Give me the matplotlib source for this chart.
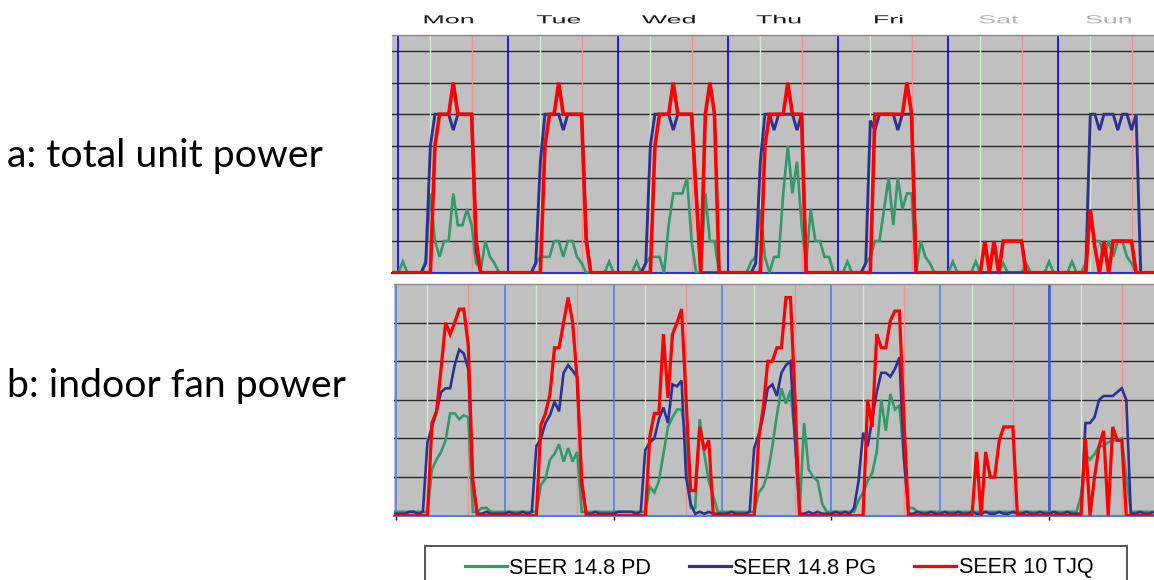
import numpy as np
import matplotlib
matplotlib.use("Agg")
import matplotlib.pyplot as plt
from matplotlib.patheffects import AbstractPathEffect
from matplotlib.transforms import Affine2D
from matplotlib.patches import Rectangle
from matplotlib.lines import Line2D

# ---------------- data ----------------
days = ["Mon", "Tue", "Wed", "Thu", "Fri", "Sat", "Sun"]
series_labels = ["SEER 14.8 PD", "SEER 14.8 PG", "SEER 10 TJQ"]
panel_labels = ["a: total unit power", "b: indoor fan power"]

hours = np.arange(-2, 168)   # hourly samples, 2 h of the previous Sunday first

# panel a : total unit power (grid units)
a_pd = ([0, 0] +
        [0, .35, 0, 0, 0, 0, .4, 2.5, 1.0, .5, 1.0, 1.0, 2.5, 1.5, 1.5, 2.0, 1.5, .3, .1, 1.0, .5, .3, 0, 0] +
        [0, 0, 0, 0, 0, 0, .3, .5, .5, .5, 1.0, 1.0, .5, 1.0, 1.0, .5, .3, 0, 0, 0, 0, 0, .35, 0] +
        [0, 0, 0, 0, .35, 0, .3, .5, .5, .5, 0, 1.5, 2.5, 2.5, 2.5, 3.0, 1.0, 0, 0, 2.5, 1.0, 1.0, 0, 0] +
        [0, 0, 0, 0, 0, .35, .5, 2.0, .5, 0, .5, .5, 2.5, 4.0, 2.5, 3.5, 1.5, .3, 2.0, 1.0, 1.0, .5, .5, 0] +
        [0, 0, .35, 0, 0, 0, .3, .5, 1.0, 1.0, 2.0, 3.0, 1.5, 3.0, 2.0, 2.5, 2.5, 0, 1.0, .5, .3, 0, 0, 0] +
        [0, .35, 0, 0, 0, 0, .35, 0, 0, 0, 0, 0, .3, 0, 0, 0, 0, .3, 0, 0, 0, 0, .35, 0] +
        [0, 0, 0, .35, 0, 0, .3, 2.0, 1.0, 1.0, .5, 1.0, .5, 1.0, 1.0, .5, .3, 0, 0, 0, 0, 0, 0, 0])
a_pg = ([0, 0] +
        [0, 0, 0, 0, 0, 0, .3, 4.0, 5, 5, 5, 5, 4.5, 5, 5, 5, 5, .7, 0, 0, 0, 0, 0, 0] +
        [0, 0, 0, 0, 0, 0, .3, 3.5, 5, 5, 5, 5, 4.5, 5, 5, 5, 5, 1.2, 0, 0, 0, 0, 0, 0] +
        [0, 0, 0, 0, 0, 0, .3, 4.0, 5, 5, 5, 5, 4.5, 5, 5, 5, 5, 2.5, 0, 0, 0, 0, 0, 0] +
        [0, 0, 0, 0, 0, 0, .3, 3.5, 5, 5, 4.5, 5, 5, 5, 5, 4.5, 5, 0, 0, 0, 0, 0, 0, 0] +
        [0, 0, 0, 0, 0, 0, .3, 4.8, 4.5, 5, 5, 5, 5, 4.5, 5, 5, 5, 0, 0, 0, 0, 0, 0, 0] +
        [0, 0, 0, 0, 0, 0, 0, 0, 0, 0, 0, 0, 0, 0, 0, 0, 0, 0, 0, 0, 0, 0, 0, 0] +
        [0, 0, 0, 0, 0, 0, 0, 5, 5, 4.5, 5, 5, 5, 4.5, 5, 5, 4.5, 5, 0, 0, 0, 0, 0, 0])
a_tjq = ([0, 0] +
         [0, 0, 0, 0, 0, 0, 0, 0, 4, 5, 5, 5, 6, 5, 5, 5, 5, 1.0, 0, 0, 0, 0, 0, 0] +
         [0, 0, 0, 0, 0, 0, 0, 0, 4, 5, 5, 6, 5, 5, 5, 5, 5, 1.0, 0, 0, 0, 0, 0, 0] +
         [0, 0, 0, 0, 0, 0, 0, 0, 4, 5, 5, 5, 6, 5, 5, 5, 5, 2.5, 0, 5, 6, 5, 0, 0] +
         [0, 0, 0, 0, 0, 0, 0, 0, 4, 5, 5, 5, 5, 6, 5, 5, 5, 0, 0, 0, 0, 0, 0, 0] +
         [0, 0, 0, 0, 0, 0, 0, 0, 5, 5, 5, 5, 5, 5, 5, 6, 5, 0, 0, 0, 0, 0, 0, 0] +
         [0, 0, 0, 0, 0, 0, 0, 0, 1, 0, 1, 0, 1, 1, 1, 1, 1, 0, 0, 0, 0, 0, 0, 0] +
         [0, 0, 0, 0, 0, 0, 0, 2, .8, 0, 1, 0, 1, 1, 1, 1, 1, 0, 0, 0, 0, 0, 0, 0])

# panel b : indoor fan power (grid units)
b_pd = ([.1, .1] +
        [.1, .1, .1, .1, .1, .1, .1, .1, 1.2, 1.45, 1.65, 1.95, 2.65, 2.65, 2.5, 2.6, 2.55, .1, .1, .2, .2, .1, .1, .1] +
        [.1, .1, .1, .1, .1, .1, .1, .1, .8, .95, 1.45, 1.6, 1.85, 1.4, 1.75, 1.4, 1.65, .1, .1, .1, .1, .1, .1, .1] +
        [.1, .1, .1, .1, .1, .1, .1, .1, .75, .6, .9, 1.6, 2.3, 2.55, 2.75, 2.75, 2.0, .2, .2, 2.5, 1.6, .9, .5, .1] +
        [.1, .1, .1, .1, .1, .1, .1, .1, .6, .75, 1.1, 1.8, 2.6, 3.3, 2.9, 3.25, 2.0, .1, 2.4, 1.2, 1.0, .9, .3, .1] +
        [.1, .1, .1, .1, .1, .1, .4, .6, .9, 1.1, 1.65, 3.0, 2.2, 3.15, 2.75, 2.85, 1.5, .2, .2, .1, .1, .1, .1, .1] +
        [.1, .1, .1, .1, .1, .1, .1, .1, .1, .1, .1, .1, .1, .1, .1, .1, .1, .1, .1, .1, .1, .1, .1, .1] +
        [.1, .1, .1, .1, .1, .1, .1, .5, 1.6, 1.45, 1.6, 1.8, 1.8, 1.9, 1.95, 1.95, 2.0, 1.0, .1, .1, .1, .1, .1, .1])
b_pg = ([.05, .05] +
        [.05, .05, .05, .1, .1, .05, .1, 1.9, 2.3, 2.7, 3.2, 3.3, 3.3, 3.9, 4.3, 4.2, 3.8, .9, .05, .05, .1, .05, .05, .05] +
        [.05, .1, .05, .05, .1, .05, .1, 1.8, 2.0, 2.4, 2.6, 2.95, 2.7, 3.7, 3.9, 3.75, 3.6, .8, .05, .05, .1, .05, .05, .05] +
        [.05, .1, .1, .1, .1, .05, .1, 1.7, 1.9, 2.0, 2.5, 2.8, 2.4, 3.4, 3.35, 3.5, 1.0, .3, .05, .1, .05, .1, .05, .05] +
        [.05, .05, .1, .05, .05, .05, .1, 1.75, 2.1, 2.6, 3.3, 3.4, 3.1, 3.7, 3.9, 4.0, 2.0, .05, .05, .1, .05, .1, .05, .05] +
        [.05, .1, .05, .1, .05, .2, .9, 2.15, 1.8, 2.5, 3.2, 3.7, 3.7, 3.6, 3.8, 4.1, 1.5, .05, .05, .1, .05, .05, .1, .05] +
        [.05, .1, .05, .05, .1, .05, .05, .1, .05, .05, .1, .05, .05, .1, .05, .05, .1, .05, .05, .1, .05, .05, .1, .05] +
        [.05, .1, .05, .05, .1, .05, .05, .05, 2.4, 2.4, 2.55, 3.0, 3.1, 3.1, 3.1, 3.2, 3.3, 3.0, .05, .05, .1, .05, .05, .1])
b_tjq = ([0, 0] +
         [0, 0, 0, 0, 0, 0, 0, 0, 2.4, 2.7, 3.8, 5.0, 4.7, 5.0, 5.35, 5.35, 4.4, .9, 0, 0, 0, 0, 0, 0] +
         [0, 0, 0, 0, 0, 0, 0, 0, 2.35, 2.65, 3.15, 4.35, 4.35, 5.0, 5.65, 5.0, 3.5, .9, 0, 0, 0, 0, 0, 0] +
         [0, 0, 0, 0, 0, 0, 0, 0, 2.05, 2.65, 2.65, 4.7, 3.05, 4.7, 5.0, 5.35, 3.0, .65, .65, 2.3, 1.7, 1.95, 0, 0] +
         [0, 0, 0, 0, 0, 0, 0, 0, 2.0, 2.8, 4.0, 4.0, 4.35, 4.35, 5.65, 5.65, 3.0, 0, 0, 0, 0, 0, 0, 0] +
         [0, 0, 0, 0, 0, 0, 0, 0, 3.0, 2.3, 4.7, 4.35, 4.35, 5.05, 5.3, 5.3, 2.5, 0, 0, 0, 0, 0, 0, 0] +
         [0, 0, 0, 0, 0, 0, 0, 0, 1.65, 0, 1.65, 1.0, 1.0, 1.95, 2.3, 2.3, 2.3, 0, 0, 0, 0, 0, 0, 0] +
         [0, 0, 0, 0, 0, 0, 0, 0, 2.0, 0, 1.0, 1.8, 2.2, 0, 2.3, 1.95, 1.95, 0, 0, 0, 0, 0, 0, 0])

# ---------------- style ----------------
W, H = 1154, 580
C_PD, C_PG, C_TJQ = "#33996b", "#2e3192", "#ff0000"
BG = "#c0c0c0"


class HStretch(AbstractPathEffect):
    """Stretch a text horizontally about its own centre."""
    def __init__(self, sx):
        super().__init__()
        self.sx = sx

    def draw_path(self, renderer, gc, tpath, affine, rgbFace=None):
        ext = tpath.get_extents()
        cx = 0.5 * (ext.x0 + ext.x1)
        t = Affine2D().translate(-cx, 0).scale(self.sx, 1).translate(cx, 0) + affine
        renderer.draw_path(gc, tpath, t, rgbFace)


fig = plt.figure(figsize=(W / 100, H / 100), dpi=100)
fig.patch.set_facecolor("white")


def px_axes(l, t, r, b):
    return fig.add_axes([l / W, 1 - b / H, (r - l) / W, (b - t) / H])


ax_a = px_axes(392, 35, 1154, 272.7)
ax_b = px_axes(394, 284, 1154, 515.7)

cfg = [
    (ax_a, (-1.37, 164.9), 7.5, range(1, 8), "#0000ff", "#2a2aff",
     (a_pd, a_pg, a_tjq), (1.9, 2.1, 2.6)),
    (ax_b, (-0.37, 167.1), 6.0, range(1, 6), "#4f7ff0", "#4f7ff0",
     (b_pd, b_pg, b_tjq), (1.9, 1.9, 2.3)),
]

handles = []
for ax, xl, ytop, grid_levels, day_c, bottom_c, data, lws in cfg:
    ax.set_facecolor(BG)
    ax.set_xlim(*xl)
    ax.set_ylim(0, ytop)
    for lev in grid_levels:
        ax.axhline(lev, color="#2b2b2b", lw=1.0, zorder=1)
    for k in range(7):
        ax.axvline(24 * k, color=day_c, lw=1.2, zorder=2)
        ax.axvline(24 * k + 7, color="#cdeecd", lw=1.0, zorder=2)
        ax.axvline(24 * k + 16, color="#f59090", lw=1.0, zorder=2)
    for s in ("left", "right"):
        ax.spines[s].set_visible(False)
    ax.spines["top"].set_color("#8a8a8a")
    ax.spines["top"].set_linewidth(1.0)
    ax.spines["bottom"].set_color(bottom_c)
    ax.spines["bottom"].set_linewidth(1.5)
    ax.set_yticks([])
    hs = []
    for vals, col, lw, z in zip(data, (C_PD, C_PG, C_TJQ), lws, (3, 4, 5)):
        ln, = ax.plot(hours, vals, color=col, lw=lw, zorder=z,
                      solid_joinstyle="miter", solid_capstyle="butt")
        hs.append(ln)
    handles = hs

ax_a.set_xticks([])
ax_b.set_xticks([0, 48, 96, 144])
ax_b.tick_params(axis="x", length=3, width=1, color="black", labelbottom=False)
ax_b.axvline(144, color="#3a5ad8", lw=1.8, zorder=2)

# day names above panel a (positioned in figure pixels vertically)
pos_a = ax_a.get_position()
y_lab = (1 - 23.3 / H - pos_a.y0) / pos_a.height
for k, (d, c) in enumerate(zip(days, ["#1a1a1a"] * 5 + ["#b2b2b2"] * 2)):
    ax_a.text(24 * k + 11, y_lab, d, transform=ax_a.get_xaxis_transform(),
              ha="center", va="baseline", fontsize=8.4, color=c,
              family="Liberation Sans", path_effects=[HStretch(2.3)])

# panel labels at the left
fig.text(6.7 / W, 1 - 166.7 / H, panel_labels[0], ha="left", va="baseline",
         fontsize=28.3, family="Lato", color="black")
fig.text(6.7 / W, 1 - 396.7 / H, panel_labels[1], ha="left", va="baseline",
         fontsize=28.3, family="Lato", color="black")

# legend (box runs off the bottom edge)
fig.patches.append(Rectangle((424.7 / W, 1 - 600 / H), (1127 - 424.7) / W, (600 - 545.6) / H,
                             transform=fig.transFigure, facecolor="white",
                             edgecolor="#4a4a4a", lw=1.3, zorder=1))
leg_h = [Line2D([], [], color=h.get_color(), lw=2.3) for h in handles]
fig.legend(leg_h, series_labels, loc="center", bbox_to_anchor=(779 / W, 1 - 568 / H),
           ncol=3, frameon=False, prop=dict(family="Liberation Sans", size=15.5),
           handlelength=1.95, handletextpad=0.12, columnspacing=1.75,
           borderpad=0, borderaxespad=0)

fig.savefig("out.png", dpi=100, facecolor="white")
